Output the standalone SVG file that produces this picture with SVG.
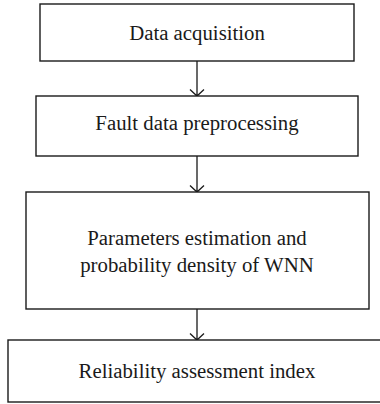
<svg xmlns="http://www.w3.org/2000/svg" width="380" height="404" viewBox="0 0 380 404">
<style>
.box{fill:#fff;stroke:#1a1a1a;stroke-width:1.4}
.lbl{font-family:"Liberation Serif","Times New Roman",serif;font-size:20.8px;fill:#1a1a1a;text-anchor:middle}
.conn{stroke:#1a1a1a;stroke-width:1.3;fill:none}
</style>
<rect width="380" height="404" fill="#fff"/>
<g id="connectors">
<path class="conn" d="M197 61V96M190 89.5L197 96L204 89.5"/>
<path class="conn" d="M197 156V192M190 185.5L197 192L204 185.5"/>
<path class="conn" d="M197 309V340M190 333.5L197 340L204 333.5"/>
</g>
<g id="n1">
<rect class="box" x="40" y="4" width="314" height="57"/>
<text class="lbl" x="197" y="39.5">Data acquisition</text>
</g>
<g id="n2">
<rect class="box" x="36" y="96" width="322" height="60"/>
<text class="lbl" x="197" y="130">Fault data preprocessing</text>
</g>
<g id="n3">
<rect class="box" x="26" y="192" width="343" height="117"/>
<text class="lbl" x="197" y="245">Parameters estimation and</text>
<text class="lbl" x="197" y="272">probability density of WNN</text>
</g>
<g id="n4">
<rect class="box" x="8" y="340" width="380" height="62"/>
<text class="lbl" x="197" y="378">Reliability assessment index</text>
</g>
</svg>
